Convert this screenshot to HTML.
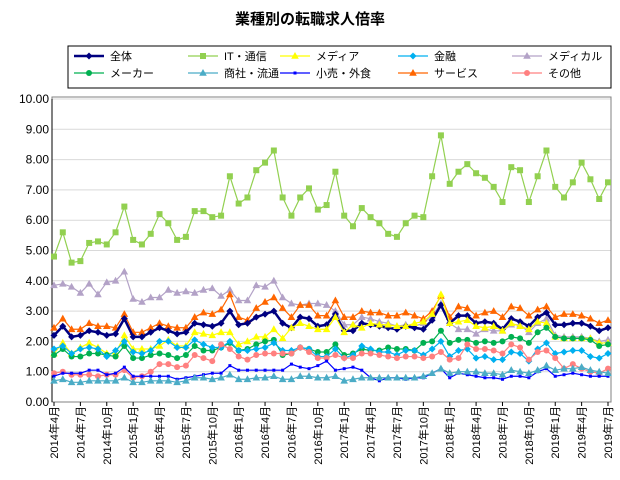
<!DOCTYPE html>
<html><head><meta charset="utf-8"><style>
body{margin:0;background:#fff;font-family:"Liberation Sans","Noto Sans CJK JP",sans-serif}
svg text{font-family:"Liberation Sans","Noto Sans CJK JP",sans-serif}
</style></head><body>
<svg id="c" width="620" height="475"></svg>
<script>
const months=[];for(let y=2014,m=4;months.length<64;){months.push(y+'年'+m+'月');m++;if(m>12){m=1;y++;}}
const yTicks=[0,1,2,3,4,5,6,7,8,9,10];
const sZentai=[2.2,2.5,2.15,2.2,2.35,2.3,2.2,2.25,2.75,2.15,2.15,2.3,2.45,2.35,2.25,2.3,2.6,2.55,2.5,2.6,3.0,2.55,2.6,2.8,2.9,3.0,2.6,2.45,2.8,2.75,2.5,2.55,2.9,2.35,2.35,2.6,2.55,2.5,2.45,2.4,2.5,2.45,2.4,2.7,3.2,2.6,2.85,2.85,2.6,2.65,2.6,2.4,2.75,2.65,2.5,2.8,2.95,2.55,2.55,2.6,2.6,2.5,2.35,2.45];
const sIT=[4.8,5.6,4.6,4.65,5.25,5.3,5.2,5.6,6.45,5.35,5.2,5.55,6.2,5.9,5.35,5.45,6.3,6.3,6.1,6.15,7.45,6.55,6.75,7.65,7.9,8.3,6.75,6.15,6.75,7.05,6.35,6.5,7.6,6.15,5.8,6.4,6.1,5.9,5.55,5.45,5.9,6.15,6.1,7.45,8.8,7.2,7.6,7.85,7.55,7.4,7.1,6.6,7.75,7.65,6.6,7.45,8.3,7.1,6.75,7.25,7.9,7.35,6.7,7.25];
const sMedia=[1.6,1.95,1.6,1.8,1.95,1.8,1.6,1.6,2.2,1.75,1.75,1.75,1.85,2.05,1.85,1.85,2.3,2.25,2.2,2.3,2.3,1.9,2.0,2.15,2.15,2.4,2.1,2.45,2.6,2.5,2.4,2.4,2.8,2.3,2.55,2.45,2.6,2.55,2.55,2.5,2.5,2.6,2.65,2.9,3.55,2.6,2.65,2.7,2.5,2.45,2.5,2.35,2.6,2.5,2.4,2.65,2.6,2.15,2.1,2.1,2.1,2.1,1.95,1.95];
const sKinyu=[1.75,1.85,1.6,1.75,1.8,1.75,1.5,1.7,2.0,1.65,1.6,1.7,2.0,2.0,1.8,1.8,2.05,1.9,1.8,1.8,2.0,1.7,1.7,1.75,1.8,1.95,1.7,1.7,1.8,1.75,1.5,1.5,1.75,1.45,1.55,1.85,1.75,1.65,1.65,1.55,1.7,1.7,1.55,1.75,2.0,1.5,1.7,1.75,1.45,1.5,1.4,1.4,1.65,1.6,1.35,1.75,1.95,1.6,1.65,1.7,1.7,1.5,1.45,1.6];
const sMedical=[3.85,3.9,3.8,3.6,3.9,3.55,3.95,4.0,4.3,3.4,3.3,3.45,3.45,3.7,3.6,3.65,3.6,3.7,3.75,3.5,3.7,3.35,3.35,3.85,3.8,4.0,3.45,3.25,3.2,3.25,3.25,3.2,3.0,2.55,2.55,2.8,2.75,2.65,2.6,2.5,2.55,2.5,2.6,2.85,3.25,2.6,2.4,2.4,2.25,2.4,2.35,2.35,2.55,2.55,2.3,2.6,2.75,2.2,2.15,2.15,2.15,2.1,2.0,2.05];
const sMaker=[1.55,1.75,1.5,1.5,1.6,1.6,1.55,1.5,1.85,1.45,1.45,1.55,1.6,1.55,1.45,1.55,1.85,1.7,1.7,1.8,1.95,1.7,1.75,1.9,2.0,2.05,1.55,1.6,1.8,1.75,1.65,1.65,1.9,1.55,1.6,1.75,1.7,1.7,1.8,1.75,1.75,1.7,1.95,2.0,2.35,1.95,2.05,2.05,1.95,2.0,1.95,2.0,2.15,2.1,1.95,2.3,2.45,2.15,2.1,2.1,2.1,2.05,1.85,1.9];
const sShosha=[0.7,0.75,0.65,0.65,0.7,0.7,0.7,0.7,0.8,0.65,0.65,0.7,0.7,0.7,0.65,0.7,0.8,0.8,0.75,0.8,0.9,0.75,0.75,0.8,0.8,0.85,0.75,0.75,0.85,0.85,0.8,0.8,0.85,0.7,0.75,0.8,0.8,0.8,0.8,0.8,0.8,0.8,0.85,0.95,1.1,0.95,1.0,1.0,1.0,0.95,0.95,0.9,1.05,1.0,0.95,1.05,1.2,1.05,1.1,1.1,1.15,1.05,1.0,0.95];
const sKouri=[0.85,0.95,0.95,0.95,1.05,1.05,0.9,0.95,1.15,0.85,0.85,0.85,0.85,0.85,0.75,0.8,0.85,0.9,0.95,0.95,1.2,1.05,1.05,1.05,1.05,1.05,1.05,1.25,1.15,1.1,1.2,1.35,1.05,1.1,1.15,1.05,0.8,0.7,0.8,0.8,0.75,0.8,0.8,0.95,1.1,0.8,0.95,0.9,0.85,0.8,0.8,0.75,0.85,0.85,0.8,1.0,1.1,0.85,0.9,0.95,0.9,0.85,0.85,0.85];
const sService=[2.45,2.75,2.4,2.4,2.6,2.5,2.5,2.45,2.9,2.3,2.3,2.45,2.6,2.5,2.45,2.45,2.8,2.95,2.9,3.05,3.55,2.8,2.7,3.1,3.3,3.45,3.1,2.8,3.2,3.2,2.85,2.85,3.35,2.8,2.8,3.0,2.95,2.95,2.85,2.85,2.95,2.85,2.75,3.0,3.5,2.8,3.15,3.1,2.85,2.95,3.0,2.8,3.15,3.1,2.85,3.05,3.15,2.8,2.9,2.9,2.85,2.75,2.6,2.7];
const sSonota=[0.95,1.0,0.9,0.9,0.9,0.85,0.9,0.9,1.05,0.8,0.85,1.0,1.25,1.25,1.15,1.2,1.55,1.45,1.35,1.9,1.75,1.5,1.4,1.55,1.6,1.6,1.6,1.6,1.8,1.65,1.45,1.45,1.55,1.45,1.45,1.6,1.6,1.55,1.5,1.45,1.5,1.5,1.45,1.5,1.65,1.4,1.45,1.9,1.75,1.75,1.7,1.6,1.9,1.8,1.4,1.65,1.7,1.45,1.1,1.25,1.1,1.0,0.95,1.1];
const series=[
 {n:'全体',d:sZentai,c:'#000080',m:'diamond',w:2.5,k:'zentai'},
 {n:'IT・通信',d:sIT,c:'#92d050',m:'square',w:1.2,k:'it'},
 {n:'メディア',d:sMedia,c:'#ffff00',m:'tri',w:1.2,k:'media'},
 {n:'金融',d:sKinyu,c:'#00b0f0',m:'diamond',w:1.2,k:'kinyu'},
 {n:'メディカル',d:sMedical,c:'#b3a2c7',m:'tri',w:1.2,k:'medical'},
 {n:'メーカー',d:sMaker,c:'#00b050',m:'circle',w:1.2,k:'maker'},
 {n:'商社・流通',d:sShosha,c:'#4bacc6',m:'tri',w:1.2,k:'shosha'},
 {n:'小売・外食',d:sKouri,c:'#0000ff',m:'small',w:1.2,k:'kouri'},
 {n:'サービス',d:sService,c:'#ff6600',m:'tri',w:1.2,k:'service'},
 {n:'その他',d:sSonota,c:'#ff8080',m:'circle',w:1.2,k:'sonota'}];
const NS='http://www.w3.org/2000/svg',svg=document.getElementById('c');
const L=54,R=608,T=99,B=402,PL=52,PR=611;
const xs=i=>L+(R-L)*i/(months.length-1), ys=v=>B-(B-T)*v/10;
function el(t,a,p){const e=document.createElementNS(NS,t);for(const k in a)e.setAttribute(k,a[k]);(p||svg).appendChild(e);return e;}
let t=el('text',{x:310,y:24,'text-anchor':'middle','font-size':15,'font-weight':'bold'});t.textContent='業種別の転職求人倍率';

yTicks.forEach(v=>{const g=el('line',{x1:PL,x2:PR,y1:ys(v),y2:ys(v),stroke:v==0?'#000':'#d9d9d9','stroke-width':1});
 
 const tx=el('text',{x:49,y:ys(v)+4,'text-anchor':'end','font-size':12});tx.textContent=v.toFixed(2);
 });
const fr=el('rect',{x:PL,y:T-2,width:PR-PL,height:B-T+2,fill:'none',stroke:'#808080'});

el('line',{x1:PL,x2:PL,y1:T,y2:B,stroke:'#000'});
months.forEach((m,i)=>{if(i%3)return;const x=xs(i);
 el('line',{x1:x,x2:x,y1:B,y2:B+4,stroke:'#000'});
 const tx=el('text',{x:0,y:0,transform:`translate(${x+4},${B+4}) rotate(-90)`,'text-anchor':'end','font-size':11});tx.textContent=m;
 });
function marker(m,x,y,c,g){let e;
 if(m=='diamond')e=el('polygon',{points:`${x},${y-3.5} ${x+3.5},${y} ${x},${y+3.5} ${x-3.5},${y}`,fill:c},g);
 else if(m=='square')e=el('rect',{x:x-3,y:y-3,width:6,height:6,fill:c},g);
 else if(m=='small')e=el('rect',{x:x-1.5,y:y-1.5,width:3,height:3,fill:c},g);
 else if(m=='tri')e=el('polygon',{points:`${x},${y-4} ${x+3.8},${y+2.8} ${x-3.8},${y+2.8}`,fill:c},g);
 else e=el('circle',{cx:x,cy:y,r:3,fill:c},g);
 }
const order=[1,4,8,0,2,5,3,9,7,6];
order.forEach(si=>{const s=series[si];const g=el('g',{});
 
 const p=el('polyline',{points:s.d.map((v,i)=>xs(i)+','+ys(v)).join(' '),fill:'none',stroke:s.c,'stroke-width':s.w},g);
 
 s.d.forEach((v,i)=>marker(s.m,xs(i),ys(v),s.c,g));});
const lg=el('g',{});
el('rect',{x:68,y:46,width:543,height:42,fill:'#fff',stroke:'#000'},lg);
const cols=[74,188,280,398,512];
series.forEach((s,i)=>{const x=cols[i%5],y=i<5?56:73;const g=el('g',{},lg);
 
 el('line',{x1:x,x2:x+30,y1:y,y2:y,stroke:s.c,'stroke-width':s.w},g);marker(s.m,x+15,y,s.c,g);
 const tx=el('text',{x:x+36,y:y+4,'font-size':11},g);tx.textContent=s.n;});
</script></body></html>
